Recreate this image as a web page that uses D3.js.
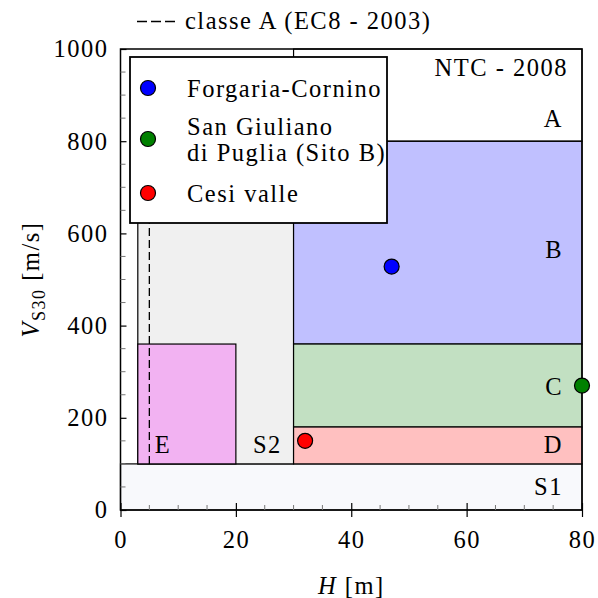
<!DOCTYPE html>
<html><head><meta charset="utf-8">
<script src="https://cdn.jsdelivr.net/npm/d3@7"></script>
<style>
html,body{margin:0;padding:0;background:#fff;}
svg text{font-family:"Liberation Serif","Tinos","Times New Roman","Times","DejaVu Serif",serif !important;fill:#000;}
</style></head>
<body>
<svg id="c" width="598" height="598"></svg>
<script>
// ---- data ----
const xTicks = [0, 20, 40, 60, 80];
const yTicks = [0, 200, 400, 600, 800, 1000];
const zoneNames = ["S1", "S2", "E", "B", "C", "D"];
const zoneX0 = [0, 3, 3, 30, 30, 30];
const zoneX1 = [80, 30, 20, 80, 80, 80];
const zoneY0 = [0, 100, 100, 360, 180, 100];
const zoneY1 = [100, 800, 360, 800, 360, 180];
const zoneColors = ["#f8f9fc", "#f0f0f0", "#f2b2f2", "#c0c0ff", "#c2e0c2", "#ffc0c0"];
const siteNames = ["Forgaria-Cornino", "San Giuliano|di Puglia (Sito B)", "Cesi valle"];
const siteH = [47, 80, 32];
const siteVs = [528, 270, 150];
const siteColors = ["#0000ff", "#008000", "#ff0000"];
const classeA_H = 5;
const classeA_Vs = [100, 800];
const zoneLabels = ["A", "B", "C", "D", "S1", "E", "S2"];
const zoneLabelH = [80, 80, 80, 80, 80, 3, 20];
const zoneLabelVs = [831, 547, 249, 124, 33, 124, 124];

// ---- layout ----
const svg = d3.select("#c");
const FS = 24.5, LS = 1.5;
const x = d3.scaleLinear().domain([0, 80]).range([120.5, 582]);
const y = d3.scaleLinear().domain([0, 1000]).range([510, 49]);

// zones
svg.append("g").selectAll("rect").data(zoneNames).join("rect")
  .attr("x", (d, i) => x(zoneX0[i]))
  .attr("y", (d, i) => y(zoneY1[i]))
  .attr("width", (d, i) => x(zoneX1[i]) - x(zoneX0[i]))
  .attr("height", (d, i) => y(zoneY0[i]) - y(zoneY1[i]))
  .attr("fill", (d, i) => zoneColors[i])
  .attr("stroke", "#000").attr("stroke-width", 1.2);
// A region outline
svg.append("rect").attr("x", x(30)).attr("y", y(1000))
  .attr("width", x(80) - x(30)).attr("height", y(800) - y(1000))
  .attr("fill", "none").attr("stroke", "#000").attr("stroke-width", 1.2);

// classe A dashed line
svg.append("line").attr("x1", x(classeA_H)).attr("x2", x(classeA_H))
  .attr("y1", y(classeA_Vs[0])).attr("y2", y(classeA_Vs[1]))
  .attr("stroke", "#000").attr("stroke-width", 1.3).attr("stroke-dasharray", "8,4");

// axes frame
svg.append("rect").attr("x", x(0)).attr("y", y(1000))
  .attr("width", x(80) - x(0)).attr("height", y(0) - y(1000))
  .attr("fill", "none").attr("stroke", "#000").attr("stroke-width", 1.5);

// x axis
const xa = d3.axisBottom(x).tickValues(xTicks).tickSize(7).tickPadding(14).tickFormat(d3.format("d"));
const gx = svg.append("g").attr("transform", `translate(0,${y(0)})`).call(xa);
gx.attr("font-family", null);
gx.select(".domain").remove();
gx.selectAll(".tick line").attr("y1", -7).attr("stroke-width", 1.2);
gx.selectAll("text").style("font-size", FS + "px").style("letter-spacing", LS + "px");
const xMinor = d3.range(5, 80, 5).filter(v => v % 20 !== 0);
svg.append("g").selectAll("line").data(xMinor).join("line")
  .attr("x1", d => x(d)).attr("x2", d => x(d))
  .attr("y1", y(0)).attr("y2", y(0) - 5).attr("stroke", "#777").attr("stroke-width", 1);

// y axis
const ya = d3.axisLeft(y).tickValues(yTicks).tickSize(6).tickPadding(6).tickFormat(d3.format("d"));
const gy = svg.append("g").attr("transform", `translate(${x(0)},0)`).call(ya);
gy.attr("font-family", null);
gy.select(".domain").remove();
gy.selectAll(".tick line").attr("x2", 6).attr("stroke-width", 1.2);
gy.selectAll("text").style("font-size", FS + "px").style("letter-spacing", LS + "px");
const yMinor = d3.range(50, 1000, 50).filter(v => v % 200 !== 0);
svg.append("g").selectAll("line").data(yMinor).join("line")
  .attr("x1", x(0)).attr("x2", x(0) + 5)
  .attr("y1", d => y(d)).attr("y2", d => y(d)).attr("stroke", "#777").attr("stroke-width", 1);

// zone labels
svg.append("g").selectAll("text").data(zoneLabels).join("text")
  .attr("x", (d, i) => zoneLabelH[i] === 80 ? x(80) - 19 : x(zoneLabelH[i]) + 17)
  .attr("y", (d, i) => y(zoneLabelVs[i]))
  .attr("text-anchor", (d, i) => zoneLabelH[i] === 80 ? "end" : "start")
  .style("font-size", FS + "px").style("letter-spacing", LS + "px")
  .text(d => d);

// NTC label
svg.append("text").attr("x", x(80) - 14).attr("y", 76).attr("text-anchor", "end")
  .style("font-size", FS + "px").style("letter-spacing", LS + "px").text("NTC - 2008");

// site points
svg.append("g").selectAll("circle").data(siteNames).join("circle")
  .attr("cx", (d, i) => x(siteH[i])).attr("cy", (d, i) => y(siteVs[i]))
  .attr("r", 7.5).attr("fill", (d, i) => siteColors[i])
  .attr("stroke", "#000").attr("stroke-width", 1.2);

// legend box
const lg = svg.append("g");
lg.append("rect").attr("x", 130).attr("y", 57).attr("width", 257).attr("height", 166)
  .attr("fill", "#fff").attr("stroke", "#000").attr("stroke-width", 1.8);
const legY = [88, 139, 193];
siteNames.forEach((name, i) => {
  lg.append("circle").attr("cx", 148).attr("cy", legY[i]).attr("r", 7.5)
    .attr("fill", siteColors[i]).attr("stroke", "#000").attr("stroke-width", 1.2);
  const lines = name.split("|");
  const t = lg.append("text").attr("x", 187)
    .style("font-size", FS + "px").style("letter-spacing", LS + "px");
  const y0 = legY[i] + 8.5 - (lines.length - 1) * 13;
  lines.forEach((ln, k) => {
    t.append("tspan").attr("x", 187).attr("y", y0 + k * 26).text(ln);
  });
});

// top legend: classe A
svg.append("line").attr("x1", 137).attr("x2", 175).attr("y1", 21.5).attr("y2", 21.5)
  .attr("stroke", "#000").attr("stroke-width", 1.3).attr("stroke-dasharray", "10,4");
svg.append("text").attr("x", 185).attr("y", 29)
  .style("font-size", FS + "px").style("letter-spacing", LS + "px").text("classe A (EC8 - 2003)");

// axis titles
const yl = svg.append("text").attr("transform", `translate(39,${(y(0) + y(1000)) / 2}) rotate(-90)`)
  .attr("text-anchor", "middle").style("font-size", FS + "px").style("letter-spacing", LS + "px");
yl.append("tspan").style("font-style", "italic").text("V");
yl.append("tspan").attr("dy", 6).style("font-size", "18px").text("S30");
yl.append("tspan").attr("dy", -6).text(" [m/s]");

const xl = svg.append("text").attr("x", (x(0) + x(80)) / 2).attr("y", 594)
  .attr("text-anchor", "middle").style("font-size", FS + "px").style("letter-spacing", LS + "px");
xl.append("tspan").style("font-style", "italic").text("H");
xl.append("tspan").text(" [m]");
</script>
</body></html>
